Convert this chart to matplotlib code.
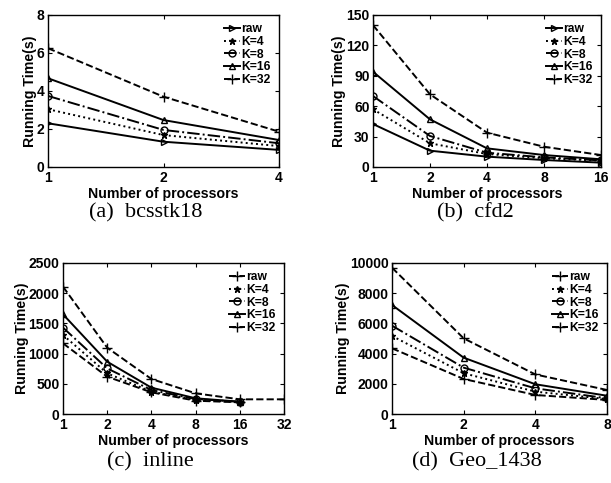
import matplotlib
matplotlib.use("Agg")
import matplotlib.pyplot as plt

plt.rcParams['font.family'] = ['Liberation Sans', 'DejaVu Sans']
plt.rcParams['font.weight'] = 'bold'

labels = ['raw', 'K=4', 'K=8', 'K=16', 'K=32']

# (a) bcsstk18
procs_a = [1, 2, 4]
a_raw = [2.3, 1.33, 0.9]
a_k4 = [3.04, 1.68, 1.1]
a_k8 = [3.74, 1.95, 1.25]
a_k16 = [4.67, 2.47, 1.42]
a_k32 = [6.25, 3.7, 1.86]

# (b) cfd2
procs_b = [1, 2, 4, 8, 16]
b_raw = [42.4, 16.1, 10.2, 6.9, 4.3]
b_k4 = [57, 23.4, 12.8, 8.6, 6.3]
b_k8 = [70, 30.6, 14.1, 9.5, 6.5]
b_k16 = [94, 47, 18.4, 11.8, 7.6]
b_k32 = [140, 71.7, 33.9, 20, 11.8]

# (c) inline
procs_c = [1, 2, 4, 8, 16]
c_raw = [1170, 618, 359, 220, 193]
c_k4 = [1308, 673, 370, 232, 200]
c_k8 = [1430, 755, 397, 248, 202]
c_k16 = [1650, 866, 436, 260, 204]
procs_c32 = [1, 2, 4, 8, 16, 32]
c_k32 = [2108, 1098, 580, 342, 243, 243]

# (d) Geo_1438
procs_d = [1, 2, 4, 8]
d_raw = [4350, 2320, 1260, 930]
d_k4 = [5170, 2700, 1480, 990]
d_k8 = [5850, 3070, 1700, 1040]
d_k16 = [7220, 3730, 1970, 1210]
d_k32 = [9690, 5010, 2620, 1590]

W, H = 611, 483
fig = plt.figure(figsize=(W / 100, H / 100), dpi=100)


def add_ax(left, right, top, bottom):
    return fig.add_axes([left / W, 1 - bottom / H, (right - left) / W, (bottom - top) / H])


def styles(raw_style):
    return [raw_style,
            dict(ls=':', marker='*', ms=5),
            dict(ls='-.', marker='o', ms=5, mfc='none'),
            dict(ls='-', marker='^', ms=5, mfc='none'),
            dict(ls='--', marker='+', ms=7)]


def panel(ax, xs_list, ys_list, raw_style, xticks, yticks, caption, cap_x, cap_y):
    for xs, ys, st, lab in zip(xs_list, ys_list, styles(raw_style), labels):
        ax.plot(xs, ys, color='black', lw=1.4, mew=1.0, label=lab, **st)
    ax.set_xscale('log', base=2)
    ax.set_xlim(xticks[0], xticks[-1])
    ax.set_xticks(xticks)
    ax.set_xticklabels([str(t) for t in xticks])
    ax.minorticks_off()
    ax.set_ylim(yticks[0], yticks[-1])
    ax.set_yticks(yticks)
    ax.tick_params(direction='in', top=True, right=True, length=3, width=0.8,
                   labelsize=10)
    ax.tick_params(axis='x', pad=3)
    ax.tick_params(axis='y', pad=2.5)
    for lab in ax.get_xticklabels() + ax.get_yticklabels():
        lab.set_fontweight('bold')
    for sp in ax.spines.values():
        sp.set_linewidth(1.0)
    ax.set_xlabel('Number of processors', fontsize=10.2, fontweight='bold', labelpad=1)
    ax.set_ylabel('Running Time(s)', fontsize=10.2, fontweight='bold', labelpad=0)
    ax.legend(loc='upper right', frameon=False, handlelength=1.3,
              handletextpad=0.1, labelspacing=0.05, borderaxespad=0.3,
              prop={'weight': 'bold', 'size': 8.7})
    fig.text(cap_x / W, 1 - cap_y / H, caption, ha='center', va='center',
             family='Liberation Serif', fontweight='normal', fontsize=16)


ax_a = add_ax(48, 279, 15, 167)
panel(ax_a, [procs_a] * 5, [a_raw, a_k4, a_k8, a_k16, a_k32],
      dict(ls='-', marker='>', ms=5, mfc='none'),
      [1, 2, 4], [0, 2, 4, 6, 8], '(a)  bcsstk18', 146, 213)

ax_b = add_ax(373, 601, 15, 167)
panel(ax_b, [procs_b] * 5, [b_raw, b_k4, b_k8, b_k16, b_k32],
      dict(ls='-', marker='>', ms=5, mfc='none'),
      [1, 2, 4, 8, 16], [0, 30, 60, 90, 120, 150], '(b)  cfd2', 475, 213)

ax_c = add_ax(63, 284, 263, 414)
panel(ax_c, [procs_c] * 4 + [procs_c32], [c_raw, c_k4, c_k8, c_k16, c_k32],
      dict(ls='--', marker='+', ms=7),
      [1, 2, 4, 8, 16, 32], [0, 500, 1000, 1500, 2000, 2500], '(c)  inline', 150, 462)

ax_d = add_ax(392, 607, 263, 414)
panel(ax_d, [procs_d] * 5, [d_raw, d_k4, d_k8, d_k16, d_k32],
      dict(ls='--', marker='+', ms=7),
      [1, 2, 4, 8], [0, 2000, 4000, 6000, 8000, 10000], '(d)  Geo_1438', 477, 462)

fig.savefig('out.png', dpi=100)
